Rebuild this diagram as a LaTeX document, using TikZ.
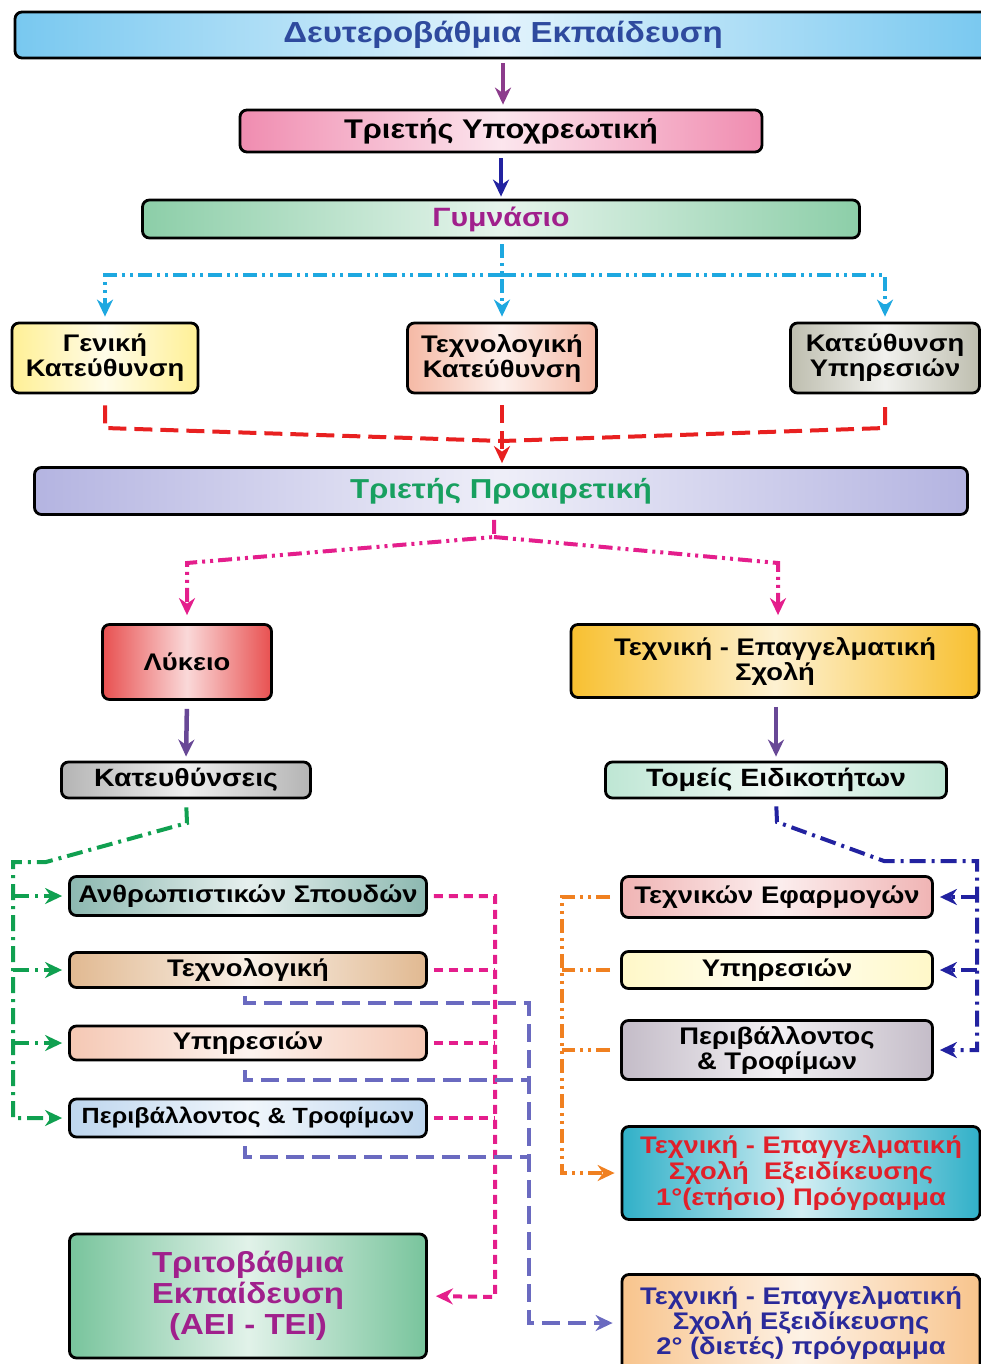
\documentclass[tikz,border=0pt]{standalone}
\usepackage{fontspec}
\setmainfont{Liberation Sans}[FakeStretch=1.14]
\usetikzlibrary{arrows.meta}
% line colours
\definecolor{mycyan}{RGB}{30,168,224}
\definecolor{myred}{RGB}{232,32,32}
\definecolor{mymagenta}{RGB}{228,30,140}
\definecolor{mypurple}{RGB}{104,72,150}
\definecolor{myplum}{RGB}{140,60,140}
\definecolor{mygreen}{RGB}{16,160,80}
\definecolor{mynavy}{RGB}{34,34,160}
\definecolor{myslate}{RGB}{106,106,192}
\definecolor{myorange}{RGB}{240,128,32}
% box colours
\definecolor{cblue}{RGB}{120,200,240}
\definecolor{cpink}{RGB}{240,140,176}
\definecolor{cmint}{RGB}{140,206,168}
\definecolor{cyellow}{RGB}{255,240,150}
\definecolor{cpeach}{RGB}{245,185,165}
\definecolor{cgrey}{RGB}{190,190,175}
\definecolor{clav}{RGB}{180,180,225}
\definecolor{csalmon}{RGB}{232,80,80}
\definecolor{cgold}{RGB}{248,192,48}
\definecolor{csilver}{RGB}{180,180,180}
\definecolor{cpale}{RGB}{190,230,212}
\definecolor{cteal}{RGB}{140,184,176}
\definecolor{ctan}{RGB}{225,185,145}
\definecolor{crose}{RGB}{245,200,180}
\definecolor{csky}{RGB}{190,214,238}
\definecolor{cblush}{RGB}{240,180,180}
\definecolor{ccream}{RGB}{255,248,200}
\definecolor{cmauve}{RGB}{196,188,200}
\definecolor{caqua}{RGB}{48,176,200}
\definecolor{capricot}{RGB}{248,196,140}
\definecolor{cjade}{RGB}{120,196,156}
% text colours
\definecolor{tblue}{RGB}{46,74,158}
\definecolor{tplum}{RGB}{160,32,140}
\definecolor{tgreen}{RGB}{24,160,96}
\definecolor{tred}{RGB}{224,32,42}
\definecolor{tnavy}{RGB}{42,42,154}

\begin{document}
\begin{tikzpicture}[x=1pt,y=-1pt,
  box/.style={draw=black, line width=2.8pt, rounded corners=7pt, align=center, inner sep=0pt,
    font=\fontsize{24}{25}\selectfont\bfseries},
  bigtext/.style={font=\fontsize{#1}{28}\selectfont\bfseries},
  fillc/.style={left color=#1, right color=#1, middle color=#1!22},
  arrowhd/.style={-{Stealth[length=17pt,width=16pt]}},
  solidln/.style={line width=4.5pt},
  ddot/.style={line width=4pt, dash pattern=on 14pt off 5pt on 3pt off 5pt on 3pt off 5pt},
  dashdot/.style={line width=4pt, dash pattern=on 16pt off 6pt on 3pt off 6pt},
  longdash/.style={line width=4pt, dash pattern=on 18pt off 8pt},
  shortdash/.style={line width=4pt, dash pattern=on 9pt off 6pt}]
\useasboundingbox (0,0) rectangle (981,1364);

% Create nodes for the upper levels
\node[box, fillc=cblue, text=tblue, minimum width=976, minimum height=46, bigtext=29] (deut) at (503,35) {Δευτεροβάθμια Εκπαίδευση};
\node[box, fillc=cpink, minimum width=522, minimum height=42, bigtext=27] (trip) at (501,131) {Τριετής Υποχρεωτική};
\node[box, fillc=cmint, text=tplum, minimum width=717, minimum height=38, bigtext=26.5] (gym) at (501,219) {Γυμνάσιο};
\node[box, fillc=cyellow, minimum width=186, minimum height=70] (gk) at (105,358) {Γενική\\Κατεύθυνση};
\node[box, fillc=cpeach, minimum width=189, minimum height=70] (tk) at (502,358) {Τεχνολογική\\Κατεύθυνση};
\node[box, fillc=cgrey, minimum width=189, minimum height=70] (ky) at (885,358) {Κατεύθυνση\\Υπηρεσιών};
\node[box, fillc=clav, text=tgreen, minimum width=933, minimum height=47, bigtext=27.4] (pro) at (501,491) {Τριετής Προαιρετική};
\node[box, fillc=csalmon, minimum width=169, minimum height=75] (lyk) at (187,662) {Λύκειο};
\node[box, fillc=cgold, minimum width=408, minimum height=73] (tes) at (775,661) {Τεχνική - Επαγγελματική\\Σχολή};
\node[box, fillc=csilver, minimum width=249, minimum height=36, bigtext=25] (kat) at (186,780) {Κατευθύνσεις};
\node[box, fillc=cpale, minimum width=341, minimum height=36, bigtext=25] (tom) at (776,780) {Τομείς Ειδικοτήτων};

% Create nodes for the Lykeio branch
\node[box, fillc=cteal, minimum width=357, minimum height=39] (ant) at (248,896) {Ανθρωπιστικών Σπουδών};
\node[box, fillc=ctan, minimum width=357, minimum height=35] (tex) at (248,970) {Τεχνολογική};
\node[box, fillc=crose, minimum width=357, minimum height=34] (ypl) at (248,1043) {Υπηρεσιών};
\node[box, fillc=csky, minimum width=357, minimum height=38, bigtext=22] (per) at (248,1118) {Περιβάλλοντος \& Τροφίμων};
\node[box, fillc=cjade, text=tplum, minimum width=357, minimum height=124, font=\fontsize{29}{31}\selectfont\bfseries] (trit) at (248,1296) {Τριτοβάθμια\\Εκπαίδευση\\(ΑΕΙ - ΤΕΙ)};

% Create nodes for the vocational branch
\node[box, fillc=cblush, minimum width=311, minimum height=41] (tef) at (777,897) {Τεχνικών Εφαρμογών};
\node[box, fillc=ccream, minimum width=311, minimum height=37] (yp2) at (777,970) {Υπηρεσιών};
\node[box, fillc=cmauve, minimum width=311, minimum height=59] (pr2) at (777,1050) {Περιβάλλοντος\\\& Τροφίμων};
\node[box, fillc=caqua, text=tred, minimum width=358, minimum height=93, font=\fontsize{24}{26}\selectfont\bfseries] (tese1) at (801,1173) {Τεχνική - Επαγγελματική\\Σχολή~ Εξειδίκευσης\\1°(ετήσιο) Πρόγραμμα};
\node[box, fillc=capricot, text=tnavy, minimum width=358, minimum height=97] (tese2) at (801,1323) {Τεχνική - Επαγγελματική\\Σχολή Εξειδίκευσης\\2° (διετές) πρόγραμμα};

% Connections
\draw[myplum, solidln, arrowhd, shorten <=4pt, shorten >=4pt] (deut.south) -- (deut.south |- trip.north);
\draw[mynavy, solidln, arrowhd, shorten <=5pt, shorten >=2pt] (trip.south) -- (gym.north);

\coordinate (cj) at (502,275);
\draw[mycyan, ddot, arrowhd, shorten <=5pt, shorten >=5pt] (gym.south -| tk.north) -- (tk.north);
\draw[mycyan, ddot, arrowhd, shorten >=5pt] (cj) -| (gk.north);
\draw[mycyan, ddot, arrowhd, shorten >=5pt] (cj) -| (ky.north);

\coordinate (rl) at (105,428);
\coordinate (rc) at (502,441);
\coordinate (rr) at (885,428);
\draw[myred, longdash, shorten <=11pt, shorten >=11pt] (gk.south) -- (rl) -- (rc) -- (rr) -- (ky.south);
\draw[myred, longdash, arrowhd, shorten <=11pt, shorten >=3pt] (tk.south) -- (tk.south |- pro.north);

\coordinate (mj) at (494,537);
\coordinate (ml) at (187,563);
\coordinate (mr) at (778,563);
\draw[mymagenta, ddot, arrowhd, shorten <=4pt, shorten >=8pt] (mj |- pro.south) -- (mj) -- (ml) -- (lyk.north);
\draw[mymagenta, ddot, arrowhd, shorten >=8pt] (mj) -- (mr) -- (mr |- tes.north);

\draw[mypurple, solidln, arrowhd, shorten <=8pt, shorten >=4pt] (lyk.south) -- (kat.north);
\draw[mypurple, solidln, arrowhd, shorten <=8pt, shorten >=4pt] (tom.north |- tes.south) -- (tom.north);

\coordinate (g1) at (187,823);
\coordinate (g2) at (46,862);
\coordinate (g3) at (13,862);
\draw[mygreen, dashdot, arrowhd, shorten <=8pt, shorten >=6pt] (kat.south) -- (g1) -- (g2) -- (g3) |- (per.west);
\foreach \n in {ant,tex,ypl}
  \draw[mygreen, dashdot, arrowhd, shorten >=6pt] (g3 |- \n.west) -- (\n.west);

\coordinate (mb) at (495,1297);
\draw[mymagenta, shortdash, arrowhd, shorten <=6pt, shorten >=8pt] (ant.east) -| (mb) -- (trit.east);
\foreach \n in {tex,ypl,per}
  \draw[mymagenta, shortdash, shorten <=6pt] (\n.east) -- (\n.east -| mb);

\coordinate (s1) at (529,1003);
\coordinate (s2) at (529,1080);
\coordinate (s3) at (529,1157);
\draw[myslate, longdash, arrowhd, shorten >=8pt] ([xshift=-3pt,yshift=-7pt]tex.south) |- (s1) |- (tese2.west);
\draw[myslate, longdash] ([xshift=-3pt,yshift=-9pt]ypl.south) |- (s2);
\draw[myslate, longdash] ([xshift=-3pt,yshift=-8pt]per.south) |- (s3);

\coordinate (b1) at (777,822);
\coordinate (b2) at (884,861);
\coordinate (b3) at (977,861);
\draw[mynavy, dashdot, arrowhd, shorten <=7pt, shorten >=6pt] (tom.south) -- (b1) -- (b2) -- (b3) |- (pr2.east);
\foreach \n in {tef,yp2}
  \draw[mynavy, dashdot, arrowhd, shorten >=6pt] (b3 |- \n.east) -- (\n.east);

\coordinate (o1) at (562,1173);
\draw[myorange, ddot, line width=3.5pt, arrowhd, shorten <=10pt, shorten >=6pt] (tef.west) -| (o1) -- (tese1.west);
\foreach \n in {yp2,pr2}
  \draw[myorange, ddot, line width=3.5pt, shorten <=10pt] (\n.west) -- (\n.west -| o1);
\end{tikzpicture}
\end{document}
